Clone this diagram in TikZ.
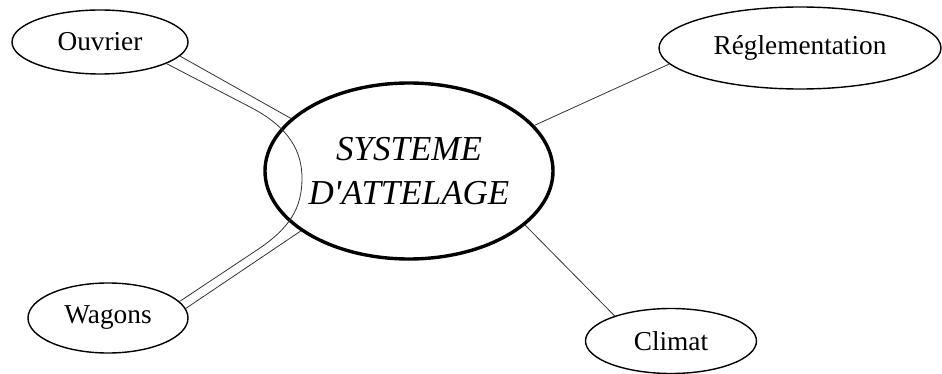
\documentclass[tikz,border=0pt]{standalone}
\usepackage{fontspec}
\setmainfont{Liberation Serif}
\usetikzlibrary{shapes.geometric}
\begin{document}
\begin{tikzpicture}[x=1pt,y=-1pt,
  leaf/.style={ellipse,draw=black,line width=1.4pt,inner sep=0pt,font=\fontsize{27.3}{32}\selectfont},
  hub/.style={ellipse,draw=black,line width=3.4pt,inner sep=0pt,align=center,font=\fontsize{35}{44}\selectfont\itshape},
  link/.style={draw=black!80,line width=0.8pt}]
\useasboundingbox (0,0) rectangle (942,374);
\node[hub,minimum width=288pt,minimum height=176pt] (sys) at (409,171) {SYSTEME\\D\textquotesingle ATTELAGE};
\node[leaf,minimum width=176pt,minimum height=64pt] (ouv) at (100,42) {Ouvrier};
\node[leaf,minimum width=160pt,minimum height=70pt] (wag) at (108,318) {Wagons};
\node[leaf,minimum width=282pt,minimum height=82pt] (reg) at (800,48) {Réglementation};
\node[leaf,minimum width=171pt,minimum height=65pt] (cli) at (671,341) {Climat};
\coordinate (bA) at (250,107);
\coordinate (bM) at (302,178);
\coordinate (bB) at (257,250);
\draw[link] (ouv.-10) -- (sys.156);
\draw[link] (ouv.-18.7) -- (bA) .. controls (283,124) and (302,146) .. (bM)
  .. controls (302,208) and (290,228) .. (bB) -- (wag.13.7);
\draw[link] (wag.7.2) -- (sys.209);
\draw[link] (sys.20) -- (reg.187);
\draw[link] (sys.-25.6) -- (cli.156.7);
\end{tikzpicture}
\end{document}
